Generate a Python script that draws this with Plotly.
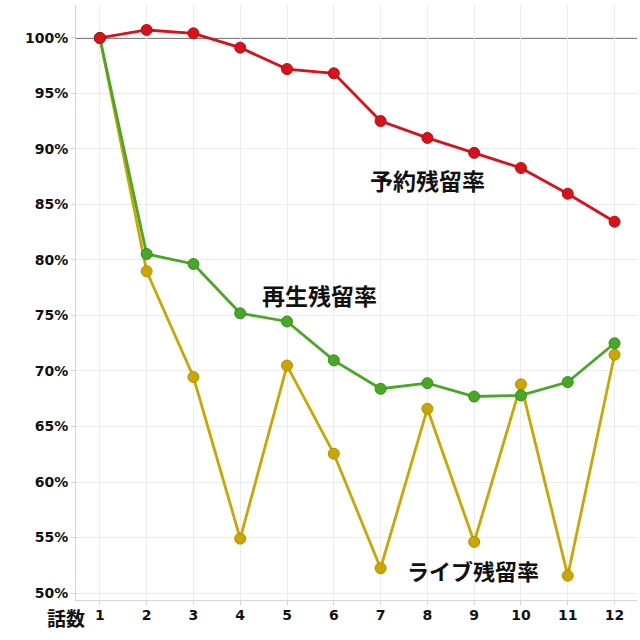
import plotly.graph_objects as go

episodes = [1, 2, 3, 4, 5, 6, 7, 8, 9, 10, 11, 12]
reservation = [100, 100.72, 100.42, 99.13, 97.2, 96.82, 92.52, 91.0, 89.65, 88.29, 85.97, 83.45]
playback = [100, 80.54, 79.64, 75.2, 74.46, 70.96, 68.4, 68.9, 67.7, 67.8, 69.0, 72.5]
live = [100, 78.98, 69.46, 54.9, 70.49, 62.55, 52.23, 66.6, 54.6, 68.8, 51.56, 71.47]
y_ticks = [50, 55, 60, 65, 70, 75, 80, 85, 90, 95, 100]
y_labels = [f"{v}%" for v in y_ticks]

fig = go.Figure()

def add(vals, color, edge):
    fig.add_trace(go.Scatter(
        x=episodes, y=vals, mode="lines+markers",
        line=dict(color=color, width=2.8),
        marker=dict(size=11, color=color, line=dict(color=edge, width=1)),
        showlegend=False, cliponaxis=False))

add(live, "#cca600", "#b08f00")
add(playback, "#46a824", "#35901a")
add(reservation, "#d8111b", "#b80c14")

fig.add_shape(type="line", xref="paper", yref="y", x0=0, x1=1, y0=100, y1=100,
              line=dict(color="#808080", width=2), layer="below")

cjk = "Noto Sans CJK JP"
fig.add_annotation(x=8.0, y=87.2, text="予約残留率", showarrow=False,
                   font=dict(family=cjk, size=23, color="#111111", weight="bold"))
fig.add_annotation(x=5.7, y=76.85, text="再生残留率", showarrow=False,
                   font=dict(family=cjk, size=23, color="#111111", weight="bold"))
fig.add_annotation(x=8.97, y=52.1, text="ライブ残留率", showarrow=False,
                   font=dict(family=cjk, size=22, color="#111111", weight="bold"))
fig.add_annotation(xref="paper", yref="paper", x=-0.018, y=-0.03, text="話数",
                   showarrow=False, xanchor="center", yanchor="middle",
                   font=dict(family=cjk, size=19, color="#111111", weight="bold"))

fig.update_layout(
    width=640, height=640,
    margin=dict(l=76, r=3, t=5, b=40),
    paper_bgcolor="white", plot_bgcolor="white",
    xaxis=dict(range=[0.49, 12.48], tickmode="array", tickvals=episodes,
               ticktext=[str(e) for e in episodes],
               showgrid=True, gridcolor="#ececec", gridwidth=1,
               showline=True, linecolor="#d4d4d4", linewidth=1,
               ticks="outside", ticklen=4, tickcolor="#d4d4d4",
               ticklabelstandoff=-2,
               zeroline=False,
               tickfont=dict(family="DejaVu Sans", size=14, color="#111111", weight="bold")),
    yaxis=dict(range=[49.37, 102.97], tickmode="array", tickvals=y_ticks, ticktext=y_labels,
               showgrid=True, gridcolor="#ececec", gridwidth=1,
               showline=True, linecolor="#d4d4d4", linewidth=1,
               ticks="outside", ticklen=4, tickcolor="#d4d4d4",
               zeroline=False,
               tickfont=dict(family="DejaVu Sans", size=14, color="#111111", weight="bold")),
)

fig.write_html("out.html", config={"displayModeBar": False},
               post_script="document.body.style.margin='0';")
